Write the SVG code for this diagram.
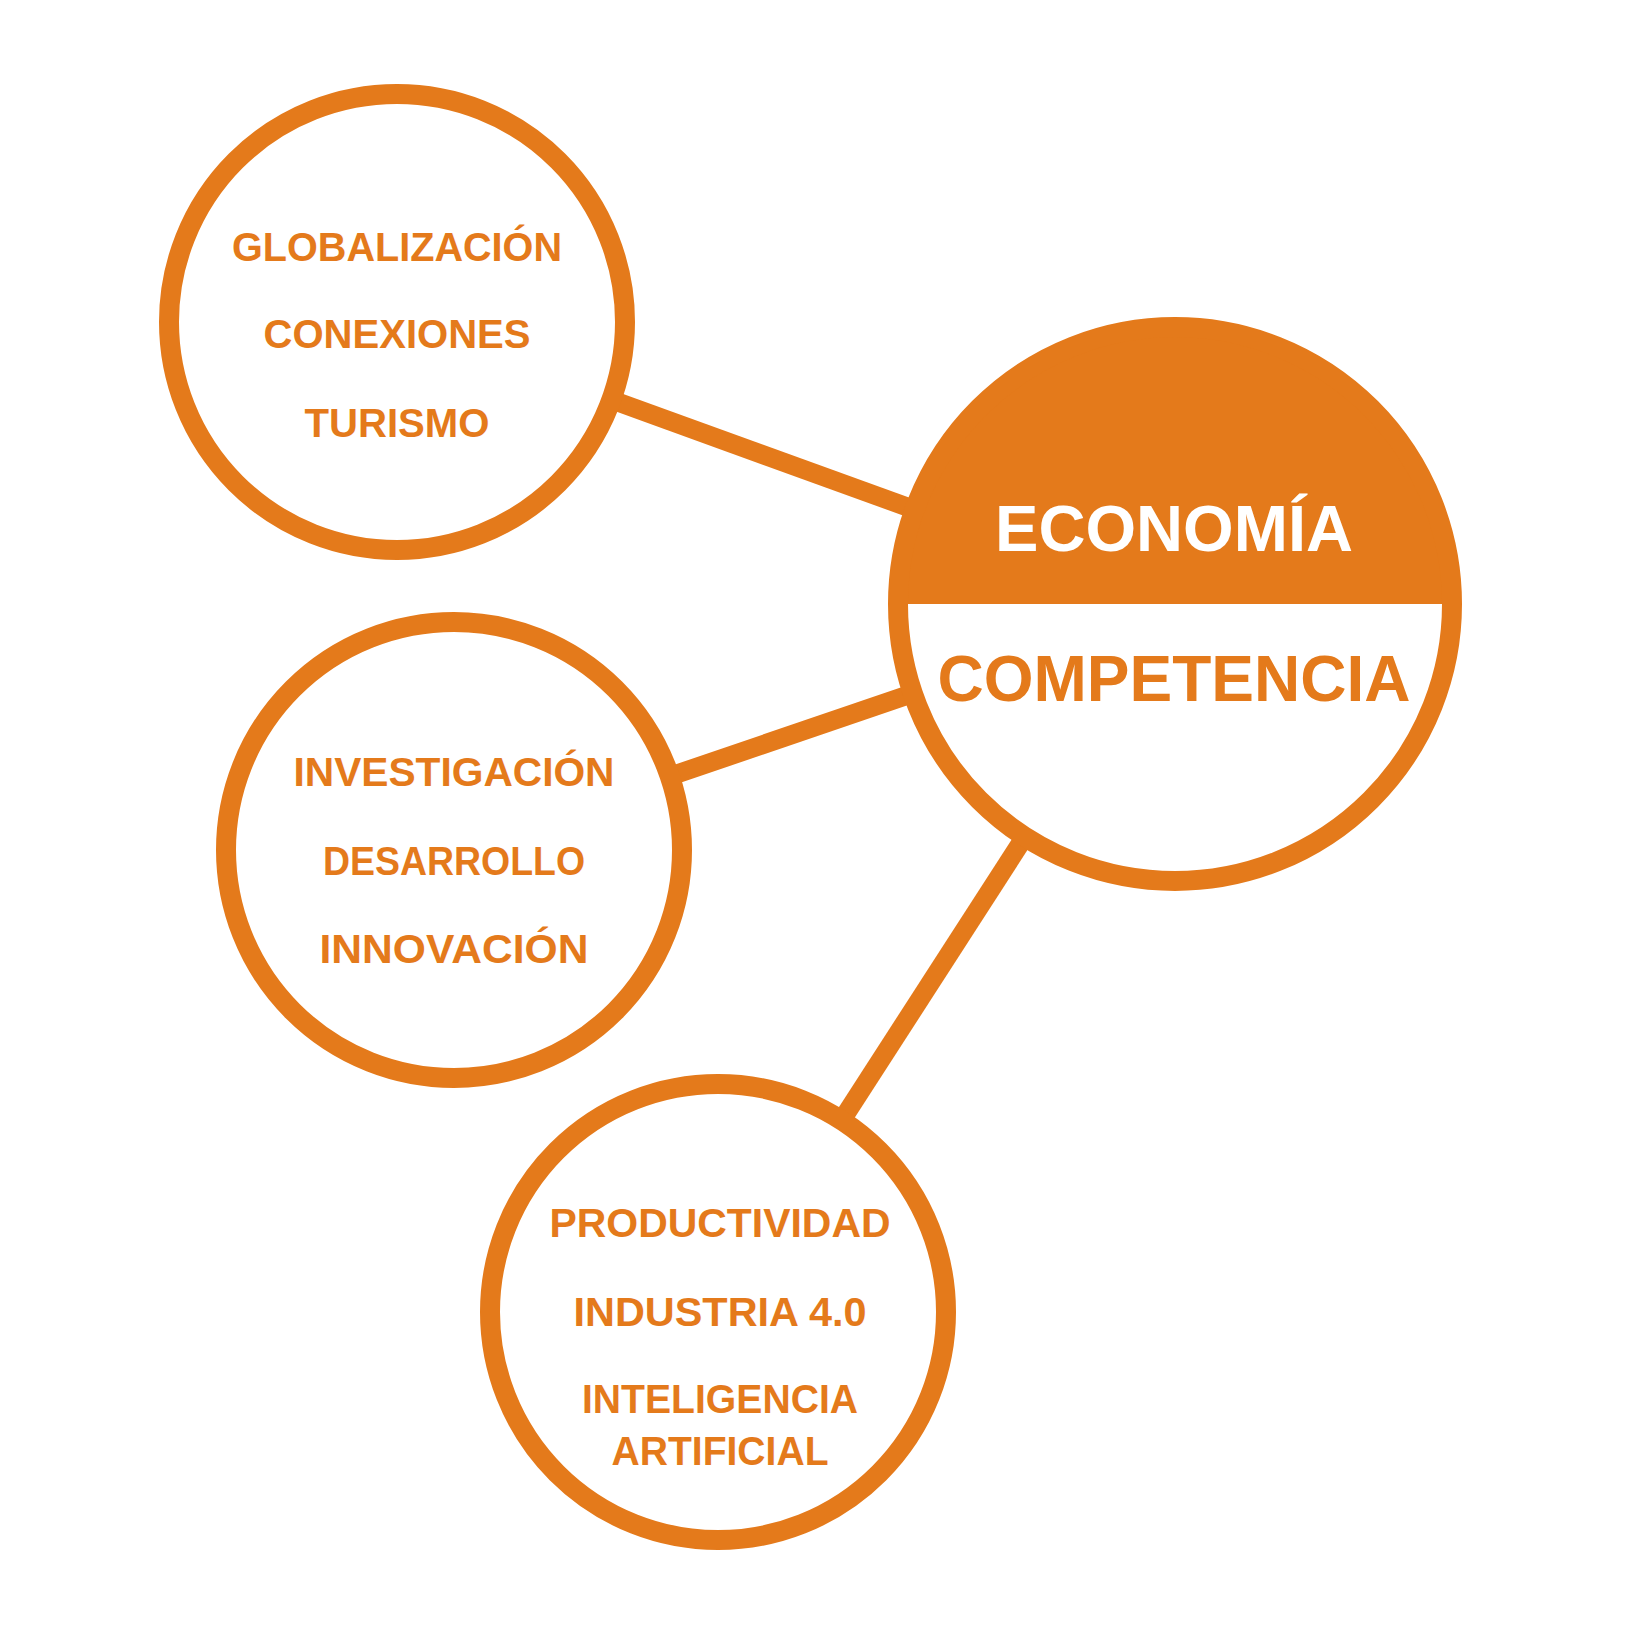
<svg xmlns="http://www.w3.org/2000/svg" width="1625" height="1625" viewBox="0 0 1625 1625">
  <style>
    .ring { fill: #ffffff; stroke: #E47A1B; stroke-width: 20; }
    .link { stroke: #E47A1B; stroke-width: 19; fill: none; }
    .lbl { font-family: "Liberation Sans", Arial, sans-serif; font-weight: 700; font-size: 40px; fill: #E47A1B; text-anchor: middle; }
    .big { font-family: "Liberation Sans", Arial, sans-serif; font-weight: 700; font-size: 64px; text-anchor: middle; }
  </style>
  <rect x="0" y="0" width="1625" height="1625" fill="#ffffff"/>
  <g id="connectors">
    <line class="link" x1="397" y1="322" x2="1175" y2="604"/>
    <line class="link" x1="454" y1="850" x2="1175" y2="604"/>
    <line class="link" x1="718" y1="1312" x2="1175" y2="604"/>
  </g>
  <g id="node-globalizacion">
    <circle class="ring" cx="397" cy="322" r="228"/>
    <text class="lbl" x="397" y="261" textLength="330" lengthAdjust="spacingAndGlyphs">GLOBALIZACIÓN</text>
    <text class="lbl" x="397" y="348" textLength="267" lengthAdjust="spacingAndGlyphs">CONEXIONES</text>
    <text class="lbl" x="397" y="437" textLength="185" lengthAdjust="spacingAndGlyphs">TURISMO</text>
  </g>
  <g id="node-investigacion">
    <circle class="ring" cx="454" cy="850" r="228"/>
    <text class="lbl" x="454" y="786" textLength="321" lengthAdjust="spacingAndGlyphs">INVESTIGACIÓN</text>
    <text class="lbl" x="454" y="875" textLength="262" lengthAdjust="spacingAndGlyphs">DESARROLLO</text>
    <text class="lbl" x="454" y="963" textLength="269" lengthAdjust="spacingAndGlyphs">INNOVACIÓN</text>
  </g>
  <g id="node-productividad">
    <circle class="ring" cx="718" cy="1312" r="228"/>
    <text class="lbl" x="720" y="1237" textLength="341" lengthAdjust="spacingAndGlyphs">PRODUCTIVIDAD</text>
    <text class="lbl" x="720" y="1326" textLength="293" lengthAdjust="spacingAndGlyphs">INDUSTRIA 4.0</text>
    <text class="lbl" x="720" y="1413" textLength="276" lengthAdjust="spacingAndGlyphs">INTELIGENCIA</text>
    <text class="lbl" x="720" y="1465" textLength="217" lengthAdjust="spacingAndGlyphs">ARTIFICIAL</text>
  </g>
  <g id="node-economia">
    <circle cx="1175" cy="604" r="277" fill="#ffffff"/>
    <path d="M 898 604 A 277 277 0 0 1 1452 604 Z" fill="#E47A1B"/>
    <circle cx="1175" cy="604" r="277" fill="none" stroke="#E47A1B" stroke-width="20"/>
    <text class="big" x="1174" y="551" fill="#ffffff" textLength="358" lengthAdjust="spacingAndGlyphs">ECONOMÍA</text>
    <text class="big" x="1174" y="701" fill="#E47A1B" textLength="473" lengthAdjust="spacingAndGlyphs">COMPETENCIA</text>
  </g>
</svg>
